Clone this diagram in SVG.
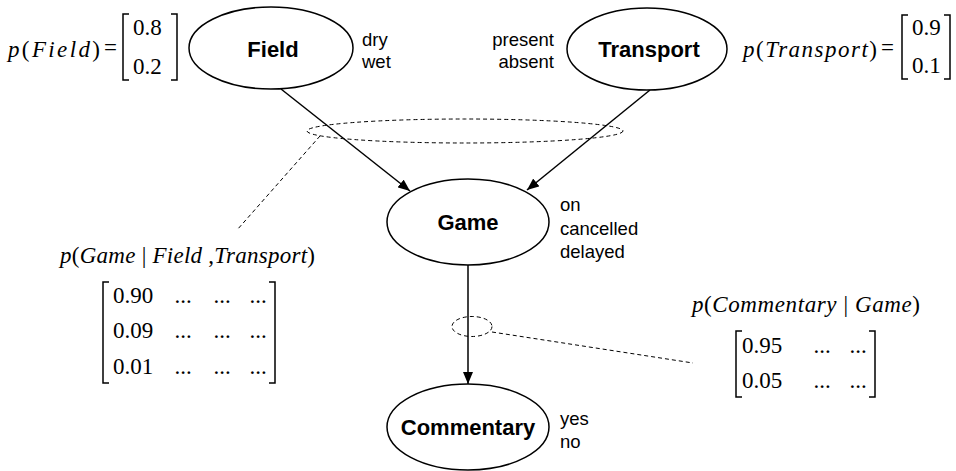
<svg xmlns="http://www.w3.org/2000/svg" width="956" height="471" viewBox="0 0 956 471">
<style>
.node ellipse{fill:#fff;stroke:#000;stroke-width:1.5}
.name{font-family:"Liberation Sans",Arial,sans-serif;font-weight:bold;font-size:22px;text-anchor:middle}
.state{font-family:"Liberation Sans",Arial,sans-serif;font-size:18.5px}
.math{font-family:"Liberation Serif","Times New Roman",serif;font-size:23px}
.it{font-style:italic}
.br{fill:none;stroke:#000;stroke-width:1.5}
.edge{stroke:#000;stroke-width:1.5;fill:none}
.dash{stroke:#000;stroke-width:1;fill:none;stroke-dasharray:4 3}
</style>
<defs>
<marker id="arr" viewBox="0 0 12 10" refX="12" refY="5" markerWidth="12" markerHeight="10" markerUnits="userSpaceOnUse" orient="auto">
<path d="M0,0 L12,5 L0,10 Z" fill="#000"/>
</marker>
</defs>
<g id="connectors">
<line class="edge" x1="281" y1="89" x2="410" y2="191" marker-end="url(#arr)"/>
<line class="edge" x1="650" y1="90" x2="527" y2="190" marker-end="url(#arr)"/>
<line class="edge" x1="468" y1="265" x2="468" y2="384" marker-end="url(#arr)"/>
</g>
<g id="annotations">
<ellipse class="dash" cx="465" cy="131" rx="158" ry="12"/>
<line class="dash" x1="320" y1="136" x2="237" y2="230"/>
<ellipse class="dash" cx="472" cy="326.5" rx="20" ry="10"/>
<line class="dash" x1="492" y1="332" x2="693" y2="363"/>
</g>
<g id="field" class="node">
<ellipse cx="271" cy="48" rx="82" ry="41"/>
<text class="name" x="273" y="57">Field</text>
<text class="state" x="362" y="46">dry</text>
<text class="state" x="362" y="68">wet</text>
</g>
<g id="transport" class="node">
<ellipse cx="647" cy="49" rx="80" ry="41"/>
<text class="name" x="649" y="57">Transport</text>
<text class="state" x="554" y="46" text-anchor="end">present</text>
<text class="state" x="554" y="68" text-anchor="end">absent</text>
</g>
<g id="game" class="node">
<ellipse cx="468" cy="222" rx="81" ry="43"/>
<text class="name" x="468" y="230">Game</text>
<text class="state" x="560" y="211">on</text>
<text class="state" x="560" y="235">cancelled</text>
<text class="state" x="560" y="258">delayed</text>
</g>
<g id="commentary" class="node">
<ellipse cx="468" cy="427" rx="81" ry="43"/>
<text class="name" x="468" y="435">Commentary</text>
<text class="state" x="560" y="425">yes</text>
<text class="state" x="560" y="448">no</text>
</g>
<g id="p-field">
<text class="math" x="8" y="57" textLength="92"><tspan class="it">p</tspan>(<tspan class="it">Field</tspan>)</text>
<text class="math" x="104" y="55">=</text>
<path class="br" d="M129,14 H123 V80 H129"/>
<path class="br" d="M171,14 H177 V80 H171"/>
<text class="math" x="133" y="35">0.8</text>
<text class="math" x="133" y="74">0.2</text>
</g>
<g id="p-transport">
<text class="math" x="743" y="57" textLength="134"><tspan class="it">p</tspan>(<tspan class="it">Transport</tspan>)</text>
<text class="math" x="881" y="55">=</text>
<path class="br" d="M908,15 H902 V79 H908"/>
<path class="br" d="M944,15 H950 V79 H944"/>
<text class="math" x="912" y="35">0.9</text>
<text class="math" x="912" y="73">0.1</text>
</g>
<g id="p-game">
<text class="math" x="60" y="263" textLength="255"><tspan class="it">p</tspan>(<tspan class="it">Game</tspan> | <tspan class="it">Field</tspan> ,<tspan class="it">Transport</tspan>)</text>
<path class="br" d="M109,282 H103 V383 H109"/>
<path class="br" d="M269,282 H275 V383 H269"/>
<text class="math" x="113" y="303">0.90</text>
<text class="math" x="113" y="338">0.09</text>
<text class="math" x="113" y="374">0.01</text>
<g class="math" text-anchor="middle">
<text x="183" y="303">...</text><text x="222" y="303">...</text><text x="258" y="303">...</text>
<text x="183" y="338">...</text><text x="222" y="338">...</text><text x="258" y="338">...</text>
<text x="183" y="374">...</text><text x="222" y="374">...</text><text x="258" y="374">...</text>
</g>
</g>
<g id="p-commentary">
<text class="math" x="692" y="312" textLength="228"><tspan class="it">p</tspan>(<tspan class="it">Commentary</tspan> | <tspan class="it">Game</tspan>)</text>
<path class="br" d="M742,331 H736 V397 H742"/>
<path class="br" d="M869,331 H875 V397 H869"/>
<text class="math" x="742" y="353">0.95</text>
<text class="math" x="742" y="388">0.05</text>
<g class="math" text-anchor="middle">
<text x="822" y="353">...</text><text x="858" y="353">...</text>
<text x="822" y="388">...</text><text x="858" y="388">...</text>
</g>
</g>
</svg>
